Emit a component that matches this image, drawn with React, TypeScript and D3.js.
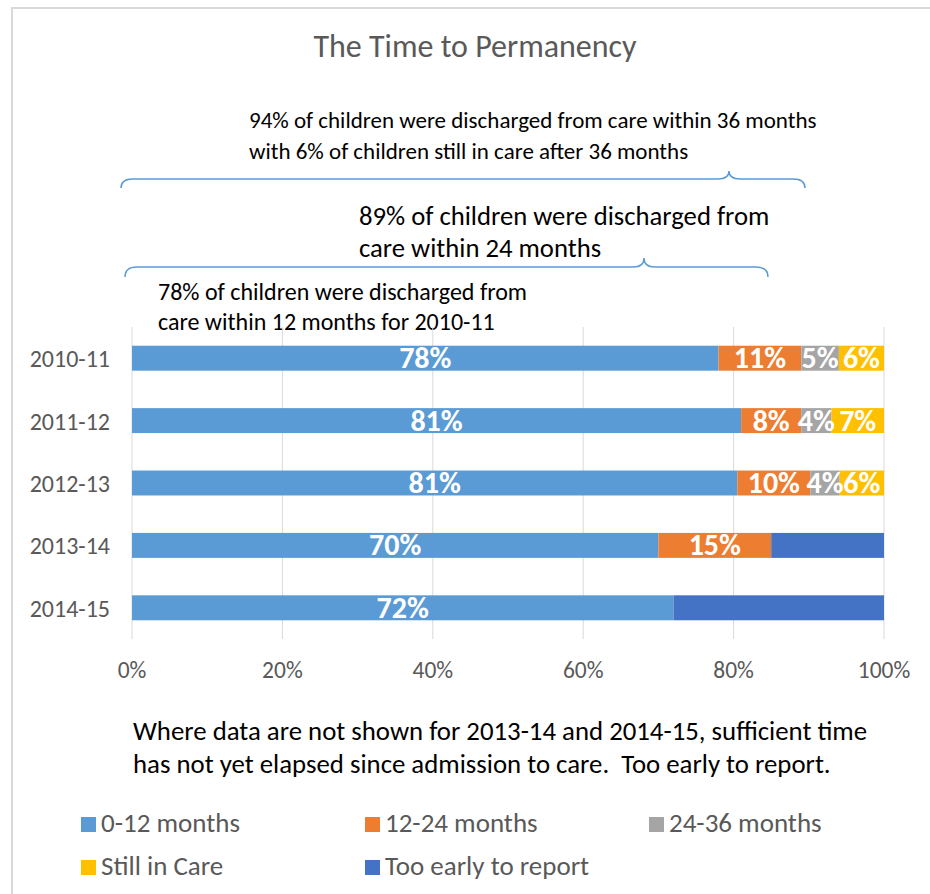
import React from "react";
import * as d3 from "d3";

const categories = ["2010-11", "2011-12", "2012-13", "2013-14", "2014-15"];
const months0to12 = [78, 81, 80.5, 70, 72];
const months12to24 = [11, 8, 9.7, 15, 0];
const months24to36 = [5, 4, 3.9, 0, 0];
const stillInCare = [6, 7, 5.9, 0, 0];
const tooEarly = [0, 0, 0, 15, 28];

const seriesNames = ["0-12 months", "12-24 months", "24-36 months", "Still in Care", "Too early to report"];
const seriesColors = ["#5B9BD5", "#ED7D31", "#A5A5A5", "#FFC000", "#4472C4"];
const seriesLabelled = [true, true, true, true, false];
const xTicks = [0, 20, 40, 60, 80, 100];

const title = "The Time to Permanency";
const note1 = ["94% of children were discharged from care within 36 months", "with 6% of children still in care after 36 months"];
const note2 = ["89% of children were discharged from", "care within 24 months"];
const note3 = ["78% of children were discharged from", "care within 12 months for 2010-11"];
const footnote = ["Where data are not shown for 2013-14 and 2014-15, sufficient time", "has not yet elapsed since admission to care.  Too early to report."];

const FONT = "Calibri, Carlito, Lato, sans-serif";

function bracePath(x0: number, x1: number, tip: number, yLine: number, yEnd: number, yTip: number) {
  const r = 12;
  const t = 11;
  const p = d3.path();
  p.moveTo(x0, yEnd);
  p.quadraticCurveTo(x0, yLine, x0 + r, yLine);
  p.lineTo(tip - t, yLine);
  p.quadraticCurveTo(tip, yLine, tip, yTip);
  p.quadraticCurveTo(tip, yLine, tip + t, yLine);
  p.lineTo(x1 - r, yLine);
  p.quadraticCurveTo(x1, yLine, x1, yEnd);
  return p.toString();
}

export default function App() {
  const width = 930;
  const height = 894;
  const x = d3.scaleLinear().domain([0, 100]).range([132, 884]);
  const y = d3.scaleBand<string>().domain(categories).range([327, 639]).paddingInner(0.6).paddingOuter(0.3);

  const rows = categories.map((c, i) => ({
    cat: c,
    s0: months0to12[i],
    s1: months12to24[i],
    s2: months24to36[i],
    s3: stillInCare[i],
    s4: tooEarly[i],
  }));
  const keys = ["s0", "s1", "s2", "s3", "s4"];
  const stacked = d3.stack<any>().keys(keys)(rows);

  const legendPos = [
    { x: 81, y: 832 },
    { x: 365, y: 832 },
    { x: 649, y: 832 },
    { x: 81, y: 875 },
    { x: 365, y: 875 },
  ];

  return (
    <svg width={width} height={height} style={{ position: "absolute", left: 0, top: 0, background: "#fff" }} fontFamily={FONT}>
      <rect x={0} y={0} width={width} height={height} fill="#fff" />
      <path d={`M12,${height} L12,8 L${width},8`} fill="none" stroke="#d9d9d9" strokeWidth={2} />

      <text x={475} y={57} textAnchor="middle" fontSize={32} fill="#595959">{title}</text>

      {note1.map((t, i) => (
        <text key={"n1" + i} x={249} y={128 + i * 30.5} fontSize={23} fill="#000">{t}</text>
      ))}
      <path d={bracePath(121, 805, 729, 179, 188, 171)} fill="none" stroke="#5B9BD5" strokeWidth={1.5} />

      {note2.map((t, i) => (
        <text key={"n2" + i} x={359} y={225 + i * 31.5} fontSize={26.7} fill="#000">{t}</text>
      ))}
      <path d={bracePath(125, 768, 644, 267, 277, 258)} fill="none" stroke="#5B9BD5" strokeWidth={1.5} />

      {note3.map((t, i) => (
        <text key={"n3" + i} x={158} y={300 + i * 30} fontSize={24} fill="#000">{t}</text>
      ))}

      {xTicks.map((t) => (
        <line key={"g" + t} x1={x(t)} x2={x(t)} y1={327} y2={639} stroke="#d9d9d9" strokeWidth={1} />
      ))}

      {stacked.map((s, si) => (
        <g key={s.key} fill={seriesColors[si]}>
          {s.map((d: any, i: number) =>
            d[1] - d[0] > 0 ? (
              <rect key={i} x={x(d[0])} y={y(categories[i])} width={x(d[1]) - x(d[0])} height={y.bandwidth()} />
            ) : null
          )}
        </g>
      ))}

      {stacked.map((s, si) =>
        seriesLabelled[si]
          ? s.map((d: any, i: number) =>
              d[1] - d[0] > 0 ? (
                <text
                  key={s.key + "l" + i}
                  x={(x(d[0]) + x(d[1])) / 2}
                  y={(y(categories[i]) as number) + y.bandwidth() / 2 + 10}
                  textAnchor="middle"
                  fontSize={30}
                  fontWeight="bold"
                  fill="#fff"
                >
                  {Math.round(d[1] - d[0]) + "%"}
                </text>
              ) : null
            )
          : null
      )}

      {categories.map((c) => (
        <text key={c} x={110} y={(y(c) as number) + y.bandwidth() / 2 + 9} textAnchor="end" fontSize={24} fill="#595959">{c}</text>
      ))}

      {xTicks.map((t) => (
        <text key={"t" + t} x={x(t)} y={678} textAnchor="middle" fontSize={23.5} fill="#595959">{t + "%"}</text>
      ))}

      {footnote.map((t, i) => (
        <text key={"f" + i} x={133} y={740 + i * 32.5} fontSize={26.8} fill="#000" style={{ whiteSpace: "pre" }}>{t}</text>
      ))}

      {seriesNames.map((n, i) => (
        <g key={n}>
          <rect x={legendPos[i].x} y={legendPos[i].y - 15} width={15} height={15} fill={seriesColors[i]} />
          <text x={legendPos[i].x + 20} y={legendPos[i].y} fontSize={27} fill="#595959">{n}</text>
        </g>
      ))}
    </svg>
  );
}
